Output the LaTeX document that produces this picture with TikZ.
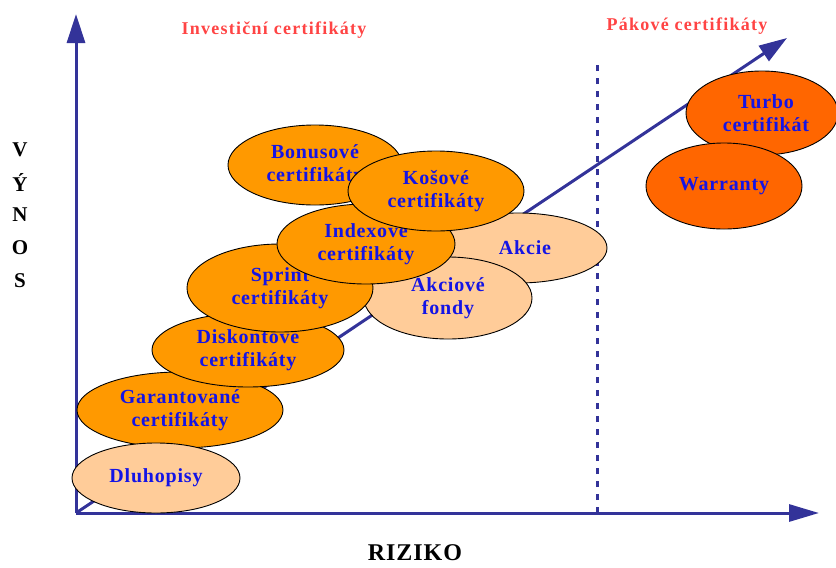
\documentclass[tikz,border=0pt]{standalone}
\usepackage{fontspec}
\setmainfont{Liberation Serif}
\newfontfamily\spacedfont[LetterSpace=7]{Liberation Serif}
\newfontfamily\lblfont[LetterSpace=4]{Liberation Serif}
\newfontfamily\axisfont[LetterSpace=4]{Liberation Serif}
\usetikzlibrary{shapes.geometric,arrows.meta}
\definecolor{axisblue}{HTML}{333399}
\definecolor{txtblue}{HTML}{1414E6}
\definecolor{ttlred}{HTML}{FF4444}
\definecolor{orng}{HTML}{FF9900}
\definecolor{peach}{HTML}{FFCC99}
\definecolor{dorng}{HTML}{FF6600}
\tikzset{
  ell/.style={ellipse, draw=black, line width=0.9pt, inner sep=0pt, align=center,
    font=\lblfont\fontsize{20}{23}\selectfont\bfseries, text=txtblue},
  axisline/.style={draw=axisblue, line width=3pt},
  ttl/.style={font=\spacedfont\fontsize{18}{20}\selectfont\bfseries, text=ttlred},
  axlbl/.style={font=\axisfont\fontsize{21}{24}\selectfont\bfseries, text=black},
}
\begin{document}
\begin{tikzpicture}[x=1pt,y=-1pt]
\useasboundingbox (0,0) rectangle (836,568);
\coordinate (O) at (76,513);
\coordinate (ytip) at (76,14);
\coordinate (xtip) at (819,513);
\coordinate (dtip) at (787,38);
\coordinate (dtop) at (597,62);
\coordinate (dbot) at (597,513);
% dotted separator
\draw[draw=axisblue, line width=3pt, dash pattern=on 6pt off 7pt] (dbot) -- (dtop);
% axes
\draw[axisline, -{Triangle[length=29pt,width=18pt]}] (O) -- (ytip);
\draw[axisline, -{Triangle[length=30pt,width=17pt]}] (O) -- (xtip);
\draw[axisline, -{Triangle[length=28pt,width=18pt]}] (O) -- (dtip);
% ellipses
\node[ell, fill=peach, minimum width=178pt, minimum height=70pt] (akcie) at (518,248) {\hspace*{14pt}Akcie};
\node[ell, fill=peach, minimum width=168pt, minimum height=82pt] (fondy) at (448,298) {Akciové\\fondy};
\node[ell, fill=orng, minimum width=206pt, minimum height=76pt] (gar) at (180,410) {Garantované\\certifikáty};
\node[ell, fill=orng, minimum width=192pt, minimum height=74pt] (disk) at (248,350) {Diskontové\\certifikáty};
\node[ell, fill=orng, minimum width=186pt, minimum height=88pt] (sprint) at (280,288) {Sprint\\certifikáty};
\node[ell, fill=orng, minimum width=178pt, minimum height=80pt] (index) at (366,244) {Indexové\\certifikáty};
\node[ell, fill=orng, minimum width=174pt, minimum height=80pt] (bonus) at (315,165) {Bonusové\\certifikáty};
\node[ell, fill=orng, minimum width=176pt, minimum height=80pt] (kos) at (436,191) {Košové\\certifikáty};
\node[ell, fill=peach, minimum width=168pt, minimum height=70pt] (dluh) at (156,478) {Dluhopisy};
\node[ell, fill=dorng, minimum width=152pt, minimum height=84pt] (turbo) at (762,113) {\hspace*{8pt}Turbo\\\hspace*{8pt}certifikát};
\node[ell, fill=dorng, minimum width=156pt, minimum height=86pt] (warr) at (724,186) {Warranty};
% titles
\node[ttl] (inv) at (274,30) {Investiční certifikáty};
\node[ttl] (pak) at (687,26) {Pákové certifikáty};
% axis labels
\node[axlbl] (v1) at (20,150) {V};
\node[axlbl] (v2) at (20,182) {Ý};
\node[axlbl] (v3) at (20,215) {N};
\node[axlbl] (v4) at (20,248) {O};
\node[axlbl] (v5) at (20,281) {S};
\node[axlbl, font=\axisfont\fontsize{24}{26}\selectfont\bfseries] (riz) at (415,553) {RIZIKO};
\end{tikzpicture}
\end{document}
